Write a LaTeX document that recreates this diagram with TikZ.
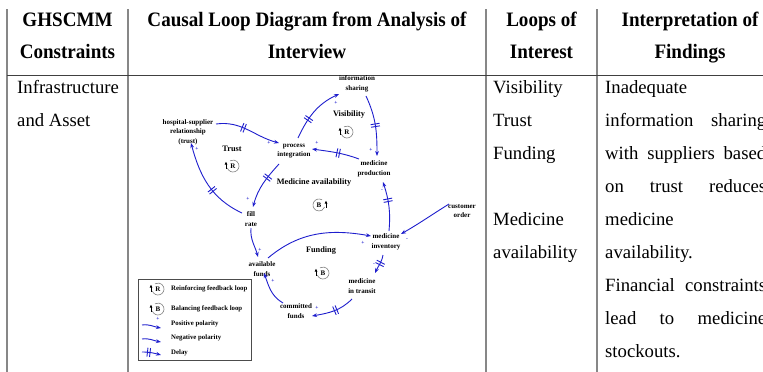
\documentclass[tikz,border=0pt]{standalone}
\usepackage{fontspec}
\setmainfont{Liberation Serif}
\usetikzlibrary{arrows.meta,decorations.markings}
\definecolor{cldblue}{RGB}{30,30,205}
\definecolor{rulegray}{RGB}{135,135,135}
\begin{document}
\begin{tikzpicture}[x=1pt,y=1pt,
  body/.style={anchor=base west,inner sep=0pt,font=\fontsize{18.7}{22}\selectfont},
  head/.style={anchor=base,inner sep=0pt,font=\fontsize{20.5}{22}\selectfont\bfseries\addfontfeature{FakeStretch=0.93}},
  var/.style={inner sep=0.5pt,align=center,font=\fontsize{7}{9.5}\selectfont\bfseries},
  loopname/.style={inner sep=0pt,font=\fontsize{8.3}{10}\selectfont\bfseries},
  legtext/.style={anchor=west,inner sep=0pt,font=\fontsize{6.8}{8}\selectfont\bfseries},
  link/.style={cldblue,line width=0.9pt,-{Stealth[length=5pt,width=3.8pt]}},
  sign/.style={inner sep=0pt,text=cldblue,font=\fontsize{5.5}{5.5}\selectfont\bfseries},
  delaymark/.style={postaction={decorate,decoration={markings,mark=at position #1 with {\draw[cldblue,line width=0.9pt,-] (-1.3pt,-4.5pt)--(-1.3pt,4.5pt) (1.3pt,-4.5pt)--(1.3pt,4.5pt);}}}},
  loopc/.style={inner sep=0pt,minimum size=12pt,font=\fontsize{7}{7}\selectfont\bfseries},
  looparc/.style={gray,line width=0.6pt},
  looparrow/.style={black,line width=1pt,-{Latex[length=3pt,width=3pt]}},
  rule/.style={rulegray,line width=1.4pt},
]
\useasboundingbox (0,0) rectangle (763,-372);
\clip (0,0) rectangle (763,-372);

% ---------- table rules ----------
\draw[rule] (7,-9) -- (7,-372);
\draw[rule] (128,-9) -- (128,-372);
\draw[rule] (486,-9) -- (486,-372);
\draw[rule] (597,-9) -- (597,-372);
\draw[black!75,line width=1pt] (7,-75) -- (763,-75);

% ---------- header ----------
\node[head] (h1a) at (67.5,-27) {GHSCMM};
\node[head] (h1b) at (67.5,-58) {Constraints};
\node[head] (h2a) at (307,-27) {Causal Loop Diagram from Analysis of};
\node[head] (h2b) at (307,-58) {Interview};
\node[head] (h3a) at (541.5,-27) {Loops of};
\node[head] (h3b) at (541.5,-58) {Interest};
\node[head] (h4a) at (690,-27) {Interpretation of};
\node[head] (h4b) at (690,-58) {Findings};

% ---------- body text ----------
\node[body] (c1a) at (17,-93) {Infrastructure};
\node[body] (c1b) at (17,-126) {and Asset};

\node[body] (c3a) at (493,-93) {Visibility};
\node[body] (c3b) at (493,-126) {Trust};
\node[body] (c3c) at (493,-159) {Funding};
\node[body] (c3d) at (493,-225) {Medicine};
\node[body] (c3e) at (493,-258) {availability};

\node[body] (c4a) at (605,-93) {Inadequate};
\node[body] (c4b) at (605,-126) {\makebox[161pt][l]{information\hfill sharing}};
\node[body] (c4c) at (605,-159) {\makebox[161pt][l]{with\hfill suppliers\hfill based}};
\node[body] (c4d) at (605,-192) {\makebox[161pt][l]{on\hfill trust\hfill reduces}};
\node[body] (c4e) at (605,-225) {medicine};
\node[body] (c4f) at (605,-258) {availability.};
\node[body] (c4g) at (605,-291) {\makebox[161pt][l]{Financial\hfill constraints}};
\node[body] (c4h) at (605,-324) {\makebox[161pt][l]{lead\hfill to\hfill medicine}};
\node[body] (c4i) at (605,-357) {stockouts.};

% ---------- causal loop diagram: variables ----------
\node[var] (hs) at (188,-132) {hospital-supplier\\relationship\\(trust)};
\node[var] (pi) at (294,-151) {process\\integration};
\node[var] (is) at (357,-84) {information\\sharing};
\node[var] (mp) at (374,-169) {medicine\\production};
\node[var] (fr) at (251,-219) {fill\\rate};
\node[var] (co) at (462,-211) {customer\\order};
\node[var] (mi) at (386,-242) {medicine\\inventory};
\node[var] (af) at (262,-269) {available\\funds};
\node[var] (mt) at (362,-286) {medicine\\in transit};
\node[var] (cf) at (296,-311) {committed\\funds};

% loop names
\node[loopname] (lnv) at (349,-115) {Visibility};
\node[loopname] (lnt) at (232,-149) {Trust};
\node[loopname] (lnm) at (314,-183) {Medicine availability};
\node[loopname] (lnf) at (321,-251) {Funding};

% loop symbols
\node[loopc] (sv) at (347,-132) {R};
\draw[looparc] (sv.center) ++(200:6pt) arc (200:480:6pt);
\draw[looparrow] ([shift={(-7pt,-2.5pt)}]sv.center) -- ([shift={(-7pt,4.5pt)}]sv.center);
\node[loopc] (st) at (233,-166) {R};
\draw[looparc] (st.center) ++(200:6pt) arc (200:480:6pt);
\draw[looparrow] ([shift={(-7pt,-2.5pt)}]st.center) -- ([shift={(-7pt,4.5pt)}]st.center);
\node[loopc] (sm) at (319,-205) {B};
\draw[looparc] (sm.center) ++(60:6pt) arc (60:340:6pt);
\draw[looparrow] ([shift={(7pt,-2.5pt)}]sm.center) -- ([shift={(7pt,4.5pt)}]sm.center);
\node[loopc] (sf) at (323,-273) {B};
\draw[looparc] (sf.center) ++(200:6pt) arc (200:480:6pt);
\draw[looparrow] ([shift={(-7pt,-2.5pt)}]sf.center) -- ([shift={(-7pt,4.5pt)}]sf.center);

% ---------- links ----------
\draw[link,delaymark=0.42] ([shift={(28,8)}]hs.center) to[out=8,in=165] ([shift={(-15,8)}]pi.center);
\draw[link,delaymark=0.35] ([shift={(4,13)}]pi.center) to[out=65,in=205] ([shift={(-18,-10)}]is.center);
\draw[link,delaymark=0.5] ([shift={(9,-12)}]is.center) to[out=-65,in=90] ([shift={(3,13)}]mp.center);
\draw[link,delaymark=0.45] ([shift={(-15,10)}]mp.center) to[out=160,in=-8] ([shift={(18,2)}]pi.center);
\draw[link,delaymark=0.35] ([shift={(-15,-13)}]pi.center) to[out=228,in=75] ([shift={(2,12)}]fr.center);
\draw[link,delaymark=0.42] ([shift={(-9,6)}]fr.center) to[out=155,in=-75] ([shift={(3,-11)}]hs.center);
\draw[link] ([shift={(0,-9)}]fr.center) to[out=-95,in=105] ([shift={(-4,12)}]af.center);
\draw[link] ([shift={(6,11)}]af.center) to[out=40,in=170] ([shift={(-15,6)}]mi.center);
\draw[link,delaymark=0.62] ([shift={(3,11)}]mi.center) to[out=85,in=-72] ([shift={(9,-13)}]mp.center);
\draw[link] ([shift={(-13,7)}]co.center) to[out=212,in=30] ([shift={(15,8)}]mi.center);
\draw[link,delaymark=0.45] ([shift={(-3,-13)}]mi.center) to[out=-100,in=65] ([shift={(13,13)}]mt.center);
\draw[link,delaymark=0.45] ([shift={(-10,-13)}]mt.center) to[out=-135,in=10] ([shift={(16,-5)}]cf.center);
\draw[link] ([shift={(-13,8)}]cf.center) to[out=150,in=-70] ([shift={(2,-4)}]af.center);

% polarity signs
\node[sign] (p1) at (269,-143) {+};
\node[sign] (p2) at (336,-103) {+};
\node[sign] (p3) at (371,-150) {+};
\node[sign] (p4) at (317,-143) {+};
\node[sign] (p5) at (248,-199) {+};
\node[sign] (p6) at (197,-149) {+};
\node[sign] (p7) at (260,-250) {+};
\node[sign] (p8) at (363,-243) {+};
\node[sign] (p9) at (382,-191) {-};
\node[sign] (p10) at (407,-240) {-};
\node[sign] (p11) at (374,-265) {-};
\node[sign] (p12) at (317,-308) {+};
\node[sign] (p13) at (273,-281) {+};

% ---------- legend ----------
\node[draw=black!70,line width=0.7pt,minimum width=113pt,minimum height=81pt,inner sep=0pt,anchor=north west] (leg) at (138,-279) {};
\node[loopc] (lr) at (158,-289) {R};
\draw[looparc] (lr.center) ++(200:6pt) arc (200:480:6pt);
\draw[looparrow] ([shift={(-7pt,-2.5pt)}]lr.center) -- ([shift={(-7pt,4.5pt)}]lr.center);
\node[legtext] (lt1) at (171,-289) {Reinforcing feedback loop};
\node[loopc] (lb) at (158,-309) {B};
\draw[looparc] (lb.center) ++(200:6pt) arc (200:480:6pt);
\draw[looparrow] ([shift={(-7pt,-2.5pt)}]lb.center) -- ([shift={(-7pt,4.5pt)}]lb.center);
\node[legtext] (lt2) at (171,-309) {Balancing feedback loop};
\coordinate (lpa) at (142,-325);
\coordinate (lpb) at (161,-328);
\draw[link] (lpa) to[out=8,in=170] (lpb);
\node[sign] (lps) at (158,-319) {+};
\node[legtext] (lt3) at (171,-324) {Positive polarity};
\coordinate (lna) at (142,-339);
\coordinate (lnb) at (161,-342);
\draw[link] (lna) to[out=8,in=170] (lnb);
\node[legtext] (lt4) at (171,-338) {Negative polarity};
\coordinate (lda) at (142,-352);
\coordinate (ldb) at (161,-355);
\draw[link,delaymark=0.35] (lda) to[out=0,in=165] (ldb);
\node[legtext] (lt5) at (171,-353) {Delay};
\end{tikzpicture}
\end{document}
